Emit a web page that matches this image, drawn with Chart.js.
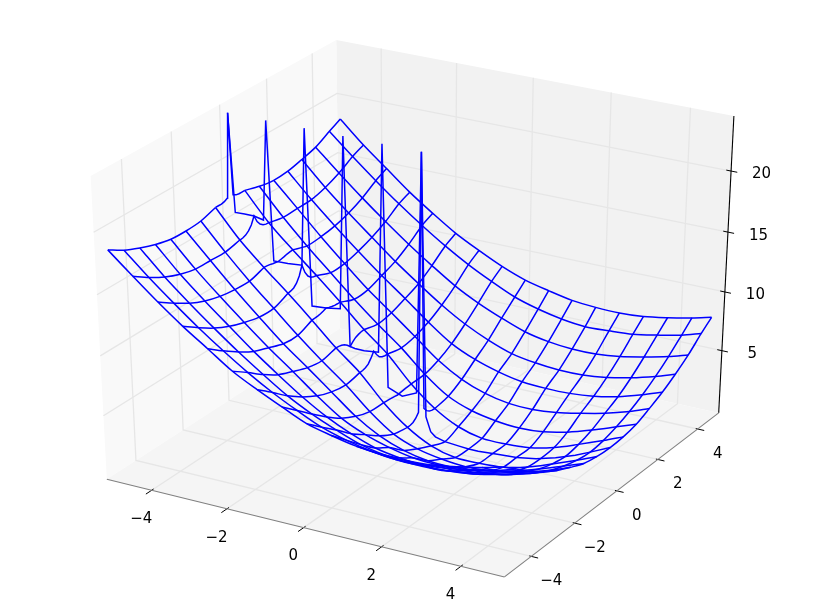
<!DOCTYPE html>
<html>
<head>
<meta charset="utf-8">
<title>wireframe</title>
<script src="https://cdn.jsdelivr.net/npm/chart.js@4"></script>
<style>
  html, body { margin: 0; padding: 0; background: #fff; }
  canvas { display: block; }
</style>
</head>
<body>
<canvas id="chart" width="815" height="615"></canvas>
<script>
// wire positions
const xGrid = [-5, -4.375, -3.75, -3.125, -2.5, -1.875, -1.25, -0.625, 0, 0.625, 1.25, 1.875, 2.5, 3.125, 3.75, 4.375, 4.875];
const yGrid = [-5, -4.375, -3.75, -3.125, -2.5, -1.875, -1.25, -0.625, 0, 0.625, 1.25, 1.875, 2.5, 3.125, 3.75, 4.375, 4.875];

// height of each row where it meets each column
const zRow0  = [18.5, 16.81, 15.17, 13.65, 12.28, 10.9, 9.85, 8.9, 8.0, 7.5, 7.1, 6.9, 6.88, 7.0, 7.35, 7.77, 8.2];
const zRow1  = [17.75, 15.97, 14.33, 12.77, 11.33, 10.0, 8.82, 7.8, 6.89, 6.29, 5.87, 5.65, 5.74, 5.89, 6.26, 6.69, 7.2];
const zRow2  = [17.2, 15.27, 13.57, 11.97, 10.45, 9.05, 7.74, 6.69, 5.83, 5.09, 4.68, 4.49, 4.51, 4.74, 5.16, 5.65, 6.15];
const zRow3  = [16.75, 14.75, 13.0, 11.35, 9.72, 8.24, 6.84, 5.64, 4.7, 3.98, 3.63, 3.46, 3.49, 3.74, 4.17, 4.74, 5.29];
const zRow4  = [16.45, 14.43, 12.62, 10.9, 9.25, 7.72, 6.13, 4.72, 3.8, 3.18, 2.78, 2.67, 2.7, 2.91, 3.34, 3.97, 4.55];
const zRow5  = [16.4, 14.4, 12.43, 10.58, 8.8, 7.25, 5.66, 4.06, 2.87, 2.11, 1.71, 1.65, 1.85, 2.25, 2.72, 3.34, 3.97];
const zRow6  = [16.5, 14.36, 12.38, 10.55, 8.73, 7.04, 5.46, 3.65, 2.2, 1.41, 1.02, 0.85, 1.0, 1.45, 2.1, 2.85, 3.45];
const zRow7  = [16.9, 14.63, 12.78, 11.05, 9.24, 7.35, 5.7, 3.6, 1.95, 0.84, 0.31, 0.3, 0.45, 0.95, 1.7, 2.5, 3.2];
const zRow8  = [23.9, 15.9, 12.55, 12.65, 9.5, 6.68, 6.74, 3.45, 23.9, 0.37, 0.22, 0.3, 0.45, 0.85, 1.5, 2.35, 3.12];
const zRow9  = [16.9, 14.63, 12.78, 11.05, 9.24, 7.35, 5.7, 3.6, 1.95, 0.84, 0.31, 0.3, 0.45, 0.95, 1.7, 2.5, 3.2];
const zRow10 = [16.54, 14.36, 12.38, 10.55, 8.73, 7.04, 5.46, 3.65, 2.2, 1.41, 1.02, 0.85, 1.0, 1.45, 2.1, 2.85, 3.45];
const zRow11 = [16.34, 14.4, 12.43, 10.58, 8.8, 7.25, 5.66, 4.06, 2.87, 2.11, 1.71, 1.65, 1.85, 2.25, 2.72, 3.34, 3.97];
const zRow12 = [16.41, 14.43, 12.62, 10.9, 9.25, 7.72, 6.13, 4.72, 3.8, 3.18, 2.78, 2.67, 2.7, 2.91, 3.34, 3.97, 4.55];
const zRow13 = [16.7, 14.75, 13.0, 11.35, 9.72, 8.24, 6.84, 5.64, 4.7, 3.98, 3.63, 3.46, 3.49, 3.74, 4.17, 4.74, 5.29];
const zRow14 = [17.05, 15.27, 13.57, 11.97, 10.45, 9.05, 7.74, 6.69, 5.83, 5.09, 4.68, 4.49, 4.51, 4.74, 5.16, 5.65, 6.15];
const zRow15 = [17.7, 15.97, 14.33, 12.77, 11.33, 10.0, 8.82, 7.8, 6.89, 6.29, 5.87, 5.65, 5.74, 5.89, 6.26, 6.69, 7.2];
const zRow16 = [18.2, 16.4, 14.8, 13.2, 11.8, 10.5, 9.45, 8.5, 7.75, 7.27, 6.87, 6.7, 6.66, 6.79, 7.13, 7.55, 7.96];
const zGrid = [zRow0, zRow1, zRow2, zRow3, zRow4, zRow5, zRow6, zRow7, zRow8, zRow9, zRow10, zRow11, zRow12, zRow13, zRow14, zRow15, zRow16];

// the y = 0 row is jagged, so it has its own finer samples
const spikeRowX = [-5, -4.875, -4.625, -4.375, -4.125, -4, -3.875, -3.5, -3.125, -3, -2.875, -2.5, -2.125, -2, -1.875, -1.75, -1.5, -1.125, -1, -0.875, -0.5, -0.125, 0, 0.125, 0.25, 0.375, 0.625, 1, 1.25, 1.5, 2, 2.5, 3, 3.5, 4, 4.375, 4.875];
const spikeRowZ = [23.9, 15.86, 15.9, 15.9, 15.73, 23.9, 12.5, 12.55, 12.65, 23.9, 9.4, 9.5, 9.7, 23.9, 6.68, 6.6, 6.6, 6.74, 23.9, 3.93, 3.45, 4.0, 23.9, 2.13, 0.95, 0.6, 0.37, 0.27, 0.22, 0.22, 0.33, 0.45, 0.72, 1.2, 1.8, 2.35, 3.12];

// columns left of x = 0 bend sharply as they reach y = 0
const bendY = [0.125, 0.25, 0.375, 0.5];
const bendZ0 = [17.1, 16.95, 16.9, 16.9];
const bendZ1 = [15.3, 14.95, 14.75, 14.65];
const bendZ2 = [12.6, 12.65, 12.72, 12.76];
const bendZ3 = [11.9, 11.45, 11.2, 11.1];
const bendZ4 = [9.4, 9.32, 9.27, 9.25];
const bendZ5 = [6.95, 7.15, 7.25, 7.32];
const bendZ6 = [6.3, 5.95, 5.8, 5.72];
const bendZ7 = [3.5, 3.53, 3.56, 3.58];
const bendZ8 = [2.6, 2.25, 2.05, 1.97];
const bendZ = [bendZ0, bendZ1, bendZ2, bendZ3, bendZ4, bendZ5, bendZ6, bendZ7, bendZ8];

const xTicks = [-4, -2, 0, 2, 4];
const yTicks = [-4, -2, 0, 2, 4];
const zTicks = [5, 10, 15, 20];

const xLim = [-5.206, 5.081];
const yLim = [-5.206, 5.081];
const zLim = [-0.41, 24.42];

// same camera as a default mplot3d axes
const elev = 30 * Math.PI / 180;
const azim = -60 * Math.PI / 180;
const dist = 10;
const n = [Math.cos(elev) * Math.cos(azim), Math.cos(elev) * Math.sin(azim), Math.sin(elev)];
const u = [-Math.sin(azim), Math.cos(azim), 0];
const v = [-Math.sin(elev) * Math.cos(azim), -Math.sin(elev) * Math.sin(azim), Math.cos(elev)];

function project(x, y, z) {
  const q = [
    (x - xLim[0]) / (xLim[1] - xLim[0]) - 0.5,
    (y - yLim[0]) / (yLim[1] - yLim[0]) - 0.5,
    (z - zLim[0]) / (zLim[1] - zLim[0]) - 0.5
  ];
  const dot = (a) => a[0] * q[0] + a[1] * q[1] + a[2] * q[2];
  const w = dist - dot(n);
  return {x: dot(u) / w, y: dot(v) / w};
}

const datasets = [];
function addLine(points, color, width, order, tension) {
  datasets.push({
    data: points.map((p) => project(p[0], p[1], p[2])),
    borderColor: color, borderWidth: width, pointRadius: 0,
    showLine: true, tension: tension || 0, fill: false, order: order
  });
}
function addPane(points, color) {
  datasets.push({
    data: points.map((p) => project(p[0], p[1], p[2])),
    borderWidth: 0, borderColor: color, backgroundColor: color, pointRadius: 0,
    showLine: true, tension: 0, fill: "shape", order: 4
  });
}

// panes
addPane([[xLim[0], yLim[0], zLim[0]], [xLim[1], yLim[0], zLim[0]], [xLim[1], yLim[1], zLim[0]], [xLim[0], yLim[1], zLim[0]]], "#f5f5f5");
addPane([[xLim[0], yLim[0], zLim[0]], [xLim[0], yLim[1], zLim[0]], [xLim[0], yLim[1], zLim[1]], [xLim[0], yLim[0], zLim[1]]], "#f9f9f9");
addPane([[xLim[0], yLim[1], zLim[0]], [xLim[1], yLim[1], zLim[0]], [xLim[1], yLim[1], zLim[1]], [xLim[0], yLim[1], zLim[1]]], "#f2f2f2");

// grid
const gridColor = "#e6e6e6";
xTicks.forEach((t) => addLine([[t, yLim[0], zLim[0]], [t, yLim[1], zLim[0]], [t, yLim[1], zLim[1]]], gridColor, 1.3, 3));
yTicks.forEach((t) => addLine([[xLim[1], t, zLim[0]], [xLim[0], t, zLim[0]], [xLim[0], t, zLim[1]]], gridColor, 1.3, 3));
zTicks.forEach((t) => addLine([[xLim[0], yLim[0], t], [xLim[0], yLim[1], t], [xLim[1], yLim[1], t]], gridColor, 1.3, 3));

// axis lines and tick marks
addLine([[xLim[0], yLim[0], zLim[0]], [xLim[1], yLim[0], zLim[0]]], "#808080", 1.1, 2);
addLine([[xLim[1], yLim[0], zLim[0]], [xLim[1], yLim[1], zLim[0]]], "#808080", 1.1, 2);
addLine([[xLim[1], yLim[1], zLim[0]], [xLim[1], yLim[1], zLim[1]]], "#000000", 1.1, 2);
xTicks.forEach((t) => addLine([[t, yLim[0] - 0.24, zLim[0]], [t, yLim[0] + 0.08, zLim[0]]], "#000000", 1, 2));
yTicks.forEach((t) => addLine([[xLim[1] - 0.05, t, zLim[0]], [xLim[1] + 0.17, t, zLim[0]]], "#000000", 1, 2));
zTicks.forEach((t) => addLine([[xLim[1] - 0.12, yLim[1], t], [xLim[1] + 0.155, yLim[1], t]], "#000000", 1, 2));

// wires: rows
const wire = "#0000ff", wireWidth = 1.5, bend = 0.3;
yGrid.forEach((y, j) => {
  if (y === 0) {
    addLine(spikeRowX.map((x, k) => [x, 0, spikeRowZ[k]]), wire, wireWidth, 1);
  } else {
    addLine(xGrid.map((x, i) => [x, y, zGrid[j][i]]), wire, wireWidth, 1, bend);
  }
});

// wires: columns
const mid = yGrid.indexOf(0);
xGrid.forEach((x, i) => {
  const all = yGrid.map((y, j) => [x, y, zGrid[j][i]]);
  if (!bendZ[i]) {
    addLine(all, wire, wireWidth, 1, bend);
    return;
  }
  addLine(all.slice(0, mid), wire, wireWidth, 1, bend);
  addLine(all.slice(mid + 1), wire, wireWidth, 1, bend);
  const near = [all[mid - 1]];
  for (let k = bendY.length - 1; k >= 0; k--) near.push([x, -bendY[k], bendZ[i][k]]);
  near.push(all[mid]);
  for (let k = 0; k < bendY.length; k++) near.push([x, bendY[k], bendZ[i][k]]);
  near.push(all[mid + 1]);
  addLine(near, wire, wireWidth, 1);
});

// tick numbers
const tickText = {
  id: "tickText",
  afterDatasetsDraw(chart) {
    const c = chart.ctx;
    const sx = chart.scales.x, sy = chart.scales.y;
    c.save();
    c.font = "15px 'DejaVu Sans'";
    c.fillStyle = "#000";
    c.textAlign = "center";
    c.textBaseline = "middle";
    const put = (p, label, dx, dy) => {
      c.fillText(label, sx.getPixelForValue(p.x) + dx, sy.getPixelForValue(p.y) + dy);
    };
    const fmt = (t) => String(t).replace("-", "\u2212");
    xTicks.forEach((t) => put(project(t, yLim[0], zLim[0]), fmt(t), -10.5, 29));
    yTicks.forEach((t) => put(project(xLim[1], t, zLim[0]), fmt(t), 20, 25));
    zTicks.forEach((t) => put(project(xLim[1], yLim[1], t), fmt(t), 30.5, 3.5));
    c.restore();
  }
};

new Chart(document.getElementById("chart"), {
  type: "scatter",
  data: {datasets: datasets},
  plugins: [tickText],
  options: {
    responsive: false,
    animation: false,
    layout: {padding: 0},
    plugins: {legend: {display: false}, tooltip: {enabled: false}},
    scales: {
      x: {type: "linear", display: false, min: -417.5 / 4590, max: 397.5 / 4590},
      y: {type: "linear", display: false, min: -315.7 / 3462, max: 299.3 / 3462}
    }
  }
});
</script>
</body>
</html>
